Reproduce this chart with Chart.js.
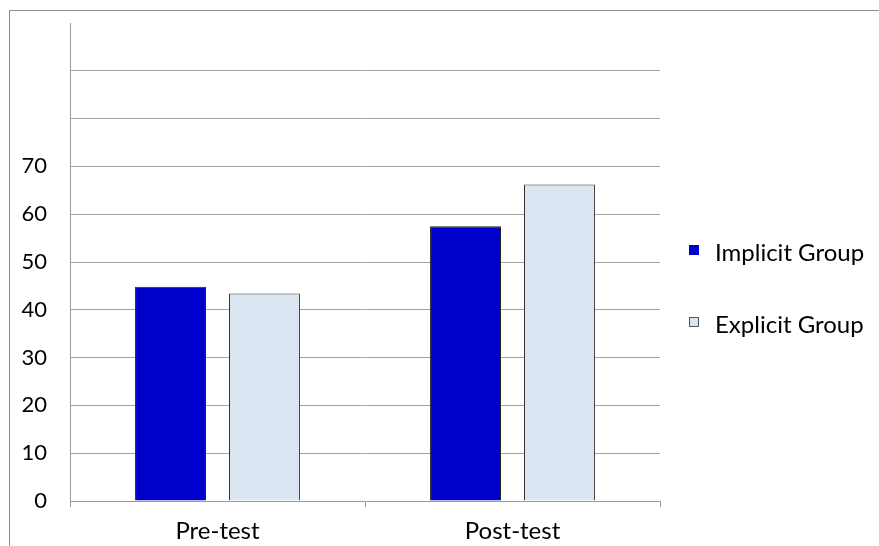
<!DOCTYPE html>
<html>
<head>
<meta charset="utf-8">
<script src="https://cdn.jsdelivr.net/npm/chart.js@4/dist/chart.umd.min.js"></script>
<style>
  html, body { margin: 0; padding: 0; background: #fff; }
  #wrap { width: 879px; height: 546px; position: relative; }
</style>
</head>
<body>
<div id="wrap"><canvas id="c" width="879" height="546"></canvas></div>
<script>
const categories = ["Pre-test", "Post-test"];
const seriesNames = ["Implicit Group", "Explicit Group"];
const implicitValues = [44.8, 57.5];
const explicitValues = [43.4, 66.2];
const yTickValues = [0, 10, 20, 30, 40, 50, 60, 70];

const FONT = "Lato, 'Liberation Sans', sans-serif";

const frameAndLegend = {
  id: 'frameAndLegend',
  beforeDraw(chart) {
    const ctx = chart.ctx;
    ctx.save();
    ctx.fillStyle = '#ffffff';
    ctx.fillRect(0, 0, chart.width, chart.height);
    ctx.strokeStyle = '#8e8e8e';
    ctx.lineWidth = 1;
    ctx.strokeRect(9.5, 10.5, 880, 560);
    ctx.restore();
  },
  afterDraw(chart) {
    const ctx = chart.ctx;
    const a = chart.chartArea;
    const rows = [261, 333];
    ctx.save();
    ctx.font = "24px " + FONT;
    ctx.textBaseline = 'alphabetic';
    ctx.textAlign = 'left';
    chart.data.datasets.forEach((ds, i) => {
      const bx = a.right + 29;
      const by = rows[i] - 16;
      ctx.fillStyle = ds.backgroundColor;
      ctx.fillRect(bx, by, 9, 9);
      ctx.strokeStyle = i === 0 ? ds.backgroundColor : '#555';
      ctx.lineWidth = 1;
      ctx.strokeRect(bx + 0.5, by + 0.5, 9, 9);
      ctx.fillStyle = '#000';
      ctx.fillText(ds.label, a.right + 55, rows[i]);
    });
    ctx.restore();
  }
};

new Chart(document.getElementById('c'), {
  type: 'bar',
  data: {
    labels: categories,
    datasets: [
      { label: seriesNames[0], data: implicitValues, backgroundColor: '#0000CC', borderColor: '#222', borderWidth: 1 },
      { label: seriesNames[1], data: explicitValues, backgroundColor: '#DCE6F2', borderColor: '#333', borderWidth: 1 }
    ]
  },
  options: {
    responsive: false,
    animation: false,
    devicePixelRatio: 1,
    layout: { padding: { left: 0, top: 23, right: 219, bottom: 0 } },
    plugins: { legend: { display: false }, tooltip: { enabled: false } },
    datasets: { bar: { categoryPercentage: 0.637, barPercentage: 0.755 } },
    scales: {
      x: {
        grid: { drawOnChartArea: false, drawTicks: true, tickLength: 6, color: '#999', offset: true },
        border: { display: true, color: '#999', width: 1 },
        ticks: { color: '#000', font: { family: FONT, size: 24 }, padding: 10, maxRotation: 0 },
        afterFit(s) { s.height = 45; s.paddingLeft = 0; s.paddingRight = 0; }
      },
      y: {
        min: 0, max: 100,
        afterBuildTicks(s) {
          const t = yTickValues.map(v => ({ value: v }));
          t.push({ value: 80 }, { value: 90 }, { value: 100 });
          s.ticks = t;
        },
        grid: {
          drawTicks: false,
          color: c => (c.tick && (c.tick.value === 0 || c.tick.value === 100)) ? 'rgba(0,0,0,0)' : '#a3a3a3',
          lineWidth: 1
        },
        border: { display: true, color: '#999', width: 1 },
        ticks: {
          color: '#000', font: { family: FONT, size: 22 }, padding: 23,
          callback: v => yTickValues.includes(v) ? String(v) : ''
        },
        afterFit(s) { s.width = 70; s.paddingTop = 0; s.paddingBottom = 0; }
      }
    }
  },
  plugins: [frameAndLegend]
});
</script>
</body>
</html>
